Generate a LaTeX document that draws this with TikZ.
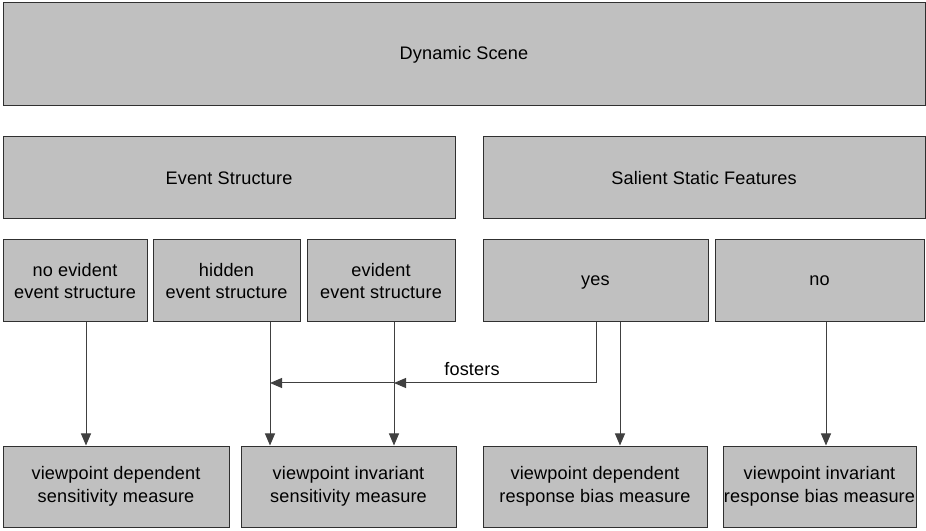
\documentclass[tikz,border=0pt]{standalone}
\usepackage{fontspec}
\setmainfont{Liberation Sans}[LetterSpace=0.8]
\usetikzlibrary{arrows.meta}
\definecolor{boxfill}{HTML}{C0C0C0}
\definecolor{boxline}{HTML}{303030}
\definecolor{wire}{HTML}{404040}
\begin{document}
\begin{tikzpicture}[x=0.75pt,y=-0.75pt,
  box/.style={draw=boxline,fill=boxfill,line width=0.75pt,inner sep=0pt,
    minimum height=#1*0.75pt,align=center,text=black,
    font=\fontsize{13.6pt}{16.8pt}\selectfont},
  box/.default=82,
  wire/.style={draw=wire,line width=0.75pt},
  arr/.style={wire,-{Triangle[length=9pt,width=7.5pt]}},
  lbl/.style={font=\fontsize{13.6pt}{16.8pt}\selectfont,text=black,inner sep=0pt}]
\useasboundingbox (0,0) rectangle (926,531);

% top level
\node[box=103,minimum width=922*0.75pt] (scene) at (464,54.5) {Dynamic Scene};

% second level
\node[box,minimum width=452*0.75pt] (event) at (229,178) {Event Structure};
\node[box,minimum width=442*0.75pt] (salient) at (704,178) {Salient Static Features};

% third level
\node[box,minimum width=144*0.75pt] (noev) at (75,281) {no evident\\event structure};
\node[box,minimum width=147*0.75pt] (hidden) at (226.5,281) {hidden\\event structure};
\node[box,minimum width=148*0.75pt] (evident) at (381,281) {evident\\event structure};
\node[box,minimum width=225*0.75pt,text depth=0pt] (yes) at (595.5,281) {yes};
\node[box,minimum width=209*0.75pt,text depth=0pt] (no) at (819.5,281) {no};

% measures
\node[box=81,minimum width=226*0.75pt] (vdsens) at (116,486.5) {viewpoint dependent\\sensitivity measure};
\node[box=81,minimum width=215*0.75pt] (visens) at (348.5,486.5) {viewpoint invariant\\sensitivity measure};
\node[box=81,minimum width=224*0.75pt] (vdbias) at (595,486.5) {viewpoint dependent\\response bias measure};
\node[box=81,minimum width=193*0.75pt] (vibias) at (819.5,486.5) {viewpoint invariant\\response bias measure};

% connectors
\draw[arr] (86,0 |- noev.south) -- (86,0 |- vdsens.north);
\draw[arr] (270,0 |- hidden.south) -- (270,0 |- visens.north);
\draw[arr] (394,0 |- evident.south) -- (394,0 |- visens.north);
\draw[arr] (620,0 |- yes.south) -- (620,0 |- vdbias.north);
\draw[arr] (826,0 |- no.south) -- (826,0 |- vibias.north);

% "fosters" link from yes to both sensitivity paths
\coordinate (fturn) at (596,383);
\coordinate (fev) at (394,383);
\coordinate (fhid) at (270,383);
\draw[arr] (596,0 |- yes.south) -- (fturn) -- (fev);
\draw[arr] (fev) -- (fhid);
\node[lbl] (fosters) at (472,369) {fosters};
\end{tikzpicture}
\end{document}
